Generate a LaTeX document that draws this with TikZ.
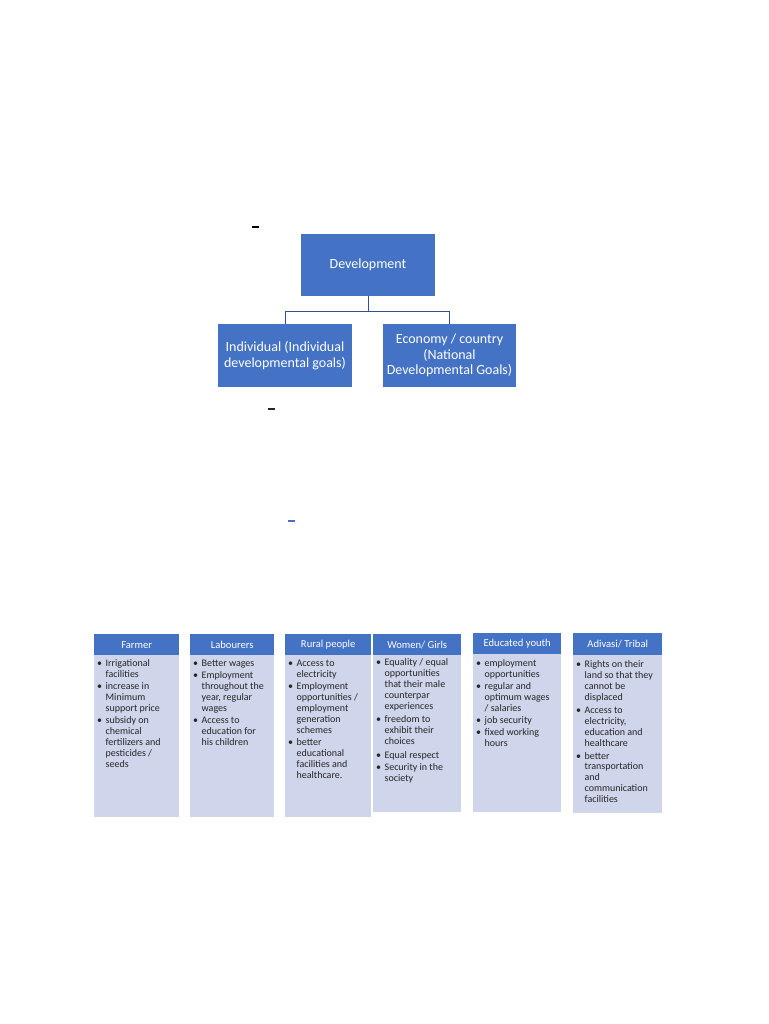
\documentclass[tikz,border=0pt]{standalone}
\usepackage{fontspec}
\setmainfont{Carlito}
\definecolor{hdblue}{HTML}{4472C4}
\definecolor{bodyblue}{HTML}{CFD5EA}
\definecolor{linkblue}{HTML}{2F528F}
\newcommand\mylist[1]{\begin{tabular}{@{}l@{\hspace{3.5pt}}l@{}}#1\end{tabular}}
\newcommand\myb{\textbullet}
\begin{document}
\begin{tikzpicture}[x=1pt,y=-1pt,
  bigbox/.style={fill=hdblue, text=white, draw=none, align=center, font=\fontsize{14}{15.6}\selectfont, inner sep=0pt},
  hdbox/.style={fill=hdblue, text=white, draw=none, font=\fontsize{10.6}{12}\selectfont, inner sep=0pt},
  bodybox/.style={fill=bodyblue, draw=none},
  bodytext/.style={anchor=north west, inner sep=0pt, font=\fontsize{10}{10.9}\selectfont, align=left, text=black!85},
  link/.style={draw=linkblue, line width=0.9pt}]
\useasboundingbox (0,0) rectangle (768,1024);
\fill[white] (0,0) rectangle (768,1024);

% top part
\node[bigbox, minimum width=134pt, minimum height=62pt] (dev) at (368,265) {Development};
\node[bigbox, minimum width=134pt, minimum height=63pt] (ind) at (285,355.5) {Individual (Individual\\developmental goals)};
\node[bigbox, minimum width=133pt, minimum height=63pt] (eco) at (449.5,355.5) {Economy / country\\(National\\Developmental Goals)};
\coordinate (split) at (368,311);
\draw[link] (dev.south) -- (split);
\draw[link] (split) -| (ind.north);
\draw[link] (split) -| (eco.north);

% small dash marks
\draw[black, line width=1.2pt] (252,227) -- (259,227);
\draw[black!85, line width=1.2pt] (268,409) -- (275,409);
\draw[hdblue, line width=1.2pt] (288,521) -- (295,521);

% bottom boxes
\fill[bodyblue] (94,655) rectangle (179,817);
\node[hdbox, minimum width=85pt, minimum height=21pt, anchor=north west] (farmer) at (94,634) {Farmer};
\node[bodytext] (farmerT) at (97,659) {\mylist{%
\myb & Irrigational\\ & facilities\\[1.2pt]
\myb & increase in\\ & Minimum\\ & support price\\[1.2pt]
\myb & subsidy on\\ & chemical\\ & fertilizers and\\ & pesticides /\\ & seeds}};

\fill[bodyblue] (190,655) rectangle (274,817);
\node[hdbox, minimum width=84pt, minimum height=21pt, anchor=north west] (lab) at (190,634) {Labourers};
\node[bodytext] (labT) at (193,659) {\mylist{%
\myb & Better wages\\[1.2pt]
\myb & Employment\\ & throughout the\\ & year, regular\\ & wages\\[1.2pt]
\myb & Access to\\ & education for\\ & his children}};

\fill[bodyblue] (285,655) rectangle (371,817);
\node[hdbox, minimum width=86pt, minimum height=21pt, anchor=north west] (rural) at (285,634) {Rural people};
\node[bodytext] (ruralT) at (288,659) {\mylist{%
\myb & Access to\\ & electricity\\[1.2pt]
\myb & Employment\\ & opportunities /\\ & employment\\ & generation\\ & schemes\\[1.2pt]
\myb & better\\ & educational\\ & facilities and\\ & healthcare.}};

\fill[bodyblue] (373,655) rectangle (461,812);
\node[hdbox, minimum width=88pt, minimum height=21pt, anchor=north west] (women) at (373,634) {Women/ Girls};
\node[bodytext] (womenT) at (376,658) {\mylist{%
\myb & Equality / equal\\ & opportunities\\ & that their male\\ & counterpar\\ & experiences\\[2.5pt]
\myb & freedom to\\ & exhibit their\\ & choices\\[2.5pt]
\myb & Equal respect\\[1.5pt]
\myb & Security in the\\ & society}};

\fill[bodyblue] (473,654) rectangle (561,812);
\node[hdbox, minimum width=88pt, minimum height=21pt, anchor=north west] (youth) at (473,633) {Educated youth};
\node[bodytext] (youthT) at (476,659) {\mylist{%
\myb & employment\\ & opportunities\\[1.2pt]
\myb & regular and\\ & optimum wages\\ & / salaries\\[1.2pt]
\myb & job security\\[1.2pt]
\myb & fixed working\\ & hours}};

\fill[bodyblue] (573,655) rectangle (662,813);
\node[hdbox, minimum width=89pt, minimum height=22pt, anchor=north west] (adivasi) at (573,633) {Adivasi/ Tribal};
\node[bodytext] (adivasiT) at (576,660) {\mylist{%
\myb & Rights on their\\ & land so that they\\ & cannot be\\ & displaced\\[2pt]
\myb & Access to\\ & electricity,\\ & education and\\ & healthcare\\[2pt]
\myb & better\\ & transportation\\ & and\\ & communication\\ & facilities}};
\end{tikzpicture}
\end{document}
